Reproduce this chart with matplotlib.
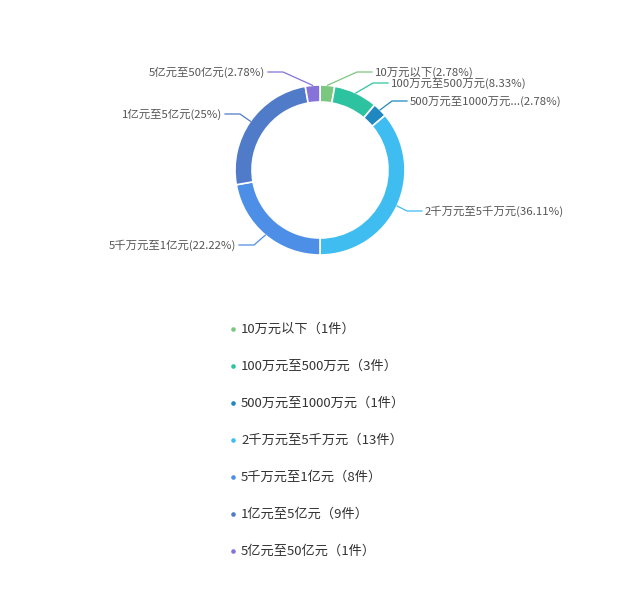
import numpy as np
import matplotlib
matplotlib.use("Agg")
import matplotlib.pyplot as plt

plt.rcParams['font.family'] = ['Noto Sans CJK SC', 'DejaVu Sans']

# data
categories = ['10万元以下', '100万元至500万元', '500万元至1000万元', '2千万元至5千万元',
              '5千万元至1亿元', '1亿元至5亿元', '5亿元至50亿元']
short_names = ['10万元以下', '100万元至500万元', '500万元至1000万元...', '2千万元至5千万元',
               '5千万元至1亿元', '1亿元至5亿元', '5亿元至50亿元']
counts = [1, 3, 1, 13, 8, 9, 1]
pct_labels = ['2.78%', '8.33%', '2.78%', '36.11%', '22.22%', '25%', '2.78%']
colors = ['#7cc77f', '#2ec3a0', '#1f88c0', '#3fbdf1', '#4d8fe6', '#4f7bc9', '#8672d8']

W, H = 640, 612
cx, cy = 320, H - 170
r_out, r_in = 85, 68

# label anchors in pixel coords (x, y from top), and side
label_pos = [(375, 72, 'left'), (391, 83, 'left'), (410, 101, 'left'), (425, 211, 'left'),
             (236, 245, 'right'), (222, 114, 'right'), (265, 72, 'right')]

fig = plt.figure(figsize=(W / 100, H / 100), dpi=100)
ax = fig.add_axes([0, 0, 1, 1])

wedges, _ = ax.pie(counts, colors=colors, startangle=90, counterclock=False,
                   center=(cx, cy), radius=r_out,
                   wedgeprops=dict(width=r_out - r_in, edgecolor='white', linewidth=1.2))

ax.set_xlim(0, W)
ax.set_ylim(0, H)
ax.set_aspect('equal')
ax.axis('off')

for w, name, pct, col, (lx, ly, side) in zip(wedges, short_names, pct_labels, colors, label_pos):
    mid = np.deg2rad((w.theta1 + w.theta2) / 2)
    x0 = cx + r_out * np.cos(mid)
    y0 = cy + r_out * np.sin(mid)
    ty = H - ly
    if side == 'left':
        xe, xt = lx - 18, lx - 3
    else:
        xe, xt = lx + 18, lx + 3
    ax.plot([x0, xe, xt], [y0, ty, ty], color=col, lw=0.9)
    ax.text(lx, ty, f'{name}({pct})', ha=side, va='center', fontsize=8.2, color='#555555')

# legend
leg_x, leg_y0, leg_dy = 233, 329, 37
for i, (name, n, col) in enumerate(zip(categories, counts, colors)):
    y = H - (leg_y0 + i * leg_dy)
    ax.plot(leg_x, y, 'o', ms=3.3, color=col, mec='none')
    ax.text(leg_x + 8, y, f'{name}（{n}件）', ha='left', va='center', fontsize=9.5, color='#333333')

fig.savefig('out.png', dpi=100, facecolor='white')
